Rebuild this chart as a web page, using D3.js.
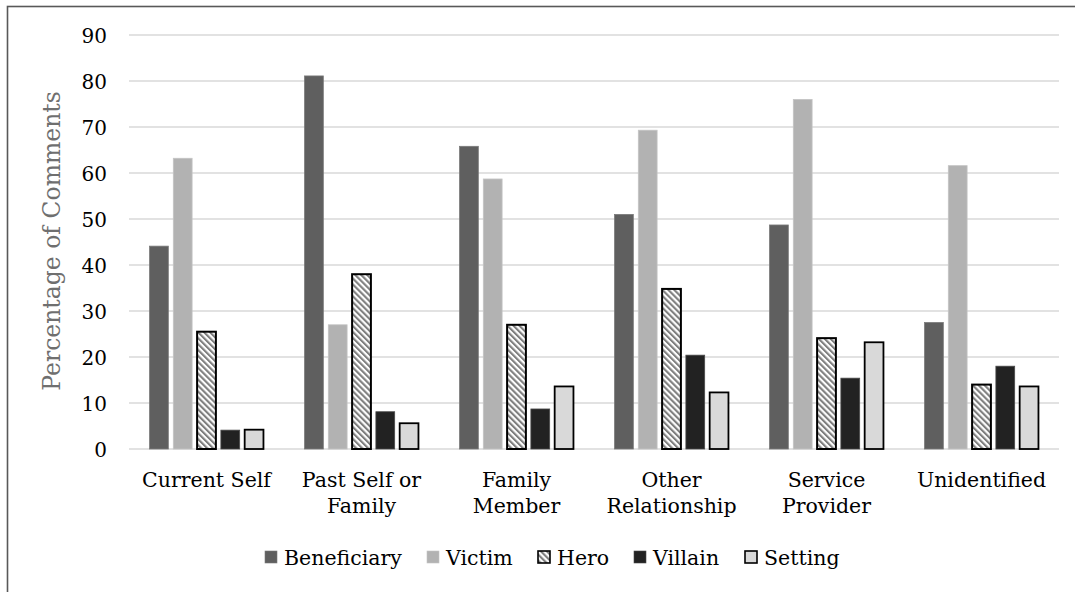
<!DOCTYPE html>
<html>
<head>
<meta charset="utf-8">
<script src="https://cdn.jsdelivr.net/npm/d3@7"></script>
<style>
  html, body { margin: 0; padding: 0; background: #fff; }
  svg { display: block; }
  text { font-family: "DejaVu Serif", "Liberation Serif", serif; }
</style>
</head>
<body>
<svg id="chart" width="1075" height="592"></svg>
<script>
// Character roles found in comments, by who the comment is about
const categories = [
  ["Current Self"],
  ["Past Self or", "Family"],
  ["Family", "Member"],
  ["Other", "Relationship"],
  ["Service", "Provider"],
  ["Unidentified"]
];
const seriesNames = ["Beneficiary", "Victim", "Hero", "Villain", "Setting"];

const beneficiary = [44.1, 81.1, 65.8, 51.0, 48.7, 27.5];
const victim      = [63.2, 27.0, 58.7, 69.3, 76.0, 61.6];
const hero        = [25.5, 38.0, 27.0, 34.8, 24.1, 14.0];
const villain     = [4.1, 8.1, 8.7, 20.4, 15.4, 18.0];
const setting     = [4.2, 5.6, 13.6, 12.3, 23.2, 13.6];

const yTicks = [0, 10, 20, 30, 40, 50, 60, 70, 80, 90];

const seriesValues = [beneficiary, victim, hero, villain, setting];

const svg = d3.select("#chart");
const margin = { left: 129, right: 1075 - 1059, top: 35, bottom: 592 - 449 };
const W = 1075, H = 592;

// outer frame (only top and left edges fall inside the canvas)
svg.append("rect")
  .attr("x", 7.5).attr("y", 6.5)
  .attr("width", W + 20).attr("height", H + 20)
  .attr("fill", "none").attr("stroke", "#595959").attr("stroke-width", 1.6);

// hatch pattern for the Hero series
const defs = svg.append("defs");
const pat = defs.append("pattern")
  .attr("id", "hatch")
  .attr("patternUnits", "userSpaceOnUse")
  .attr("width", 4.2).attr("height", 4.2)
  .attr("patternTransform", "rotate(-45)");
pat.append("rect").attr("width", 4.2).attr("height", 4.2).attr("fill", "#ffffff");
pat.append("rect").attr("width", 2.1).attr("height", 4.2).attr("fill", "#7f7f7f");

const styles = [
  { fill: "#5f5f5f", stroke: "#7a7a7a", sw: 0.8 },
  { fill: "#b2b2b2", stroke: "#c4c4c4", sw: 0.8 },
  { fill: "url(#hatch)", stroke: "#000000", sw: 2 },
  { fill: "#222222", stroke: "#4a4a4a", sw: 0.8 },
  { fill: "#d9d9d9", stroke: "#000000", sw: 1.8 }
];

const x0 = d3.scaleBand()
  .domain(d3.range(categories.length))
  .range([margin.left, W - margin.right])
  .paddingInner(0.265)
  .paddingOuter(0.1325);

const x1 = d3.scaleBand()
  .domain(d3.range(seriesNames.length))
  .range([0, x0.bandwidth()])
  .paddingInner(0.21);

const y = d3.scaleLinear()
  .domain([0, 90])
  .range([H - margin.bottom, margin.top]);

// gridlines
svg.append("g")
  .selectAll("line")
  .data(yTicks)
  .join("line")
  .attr("x1", margin.left).attr("x2", W - margin.right)
  .attr("y1", d => y(d)).attr("y2", d => y(d))
  .attr("stroke", "#d9d9d9").attr("stroke-width", 1.5);

// y axis labels
const yAxis = d3.axisLeft(y).tickValues(yTicks).tickSize(0).tickPadding(0).tickFormat(d3.format("d"));
const gy = svg.append("g")
  .attr("transform", `translate(${107},0)`)
  .call(yAxis);
gy.select(".domain").remove();
gy.selectAll("text")
  .attr("font-family", "DejaVu Serif")
  .attr("font-size", 20)
  .attr("fill", "#000")
  .attr("dy", "0.38em");

// y axis title
svg.append("text")
  .attr("transform", `translate(60,${241}) rotate(-90)`)
  .attr("text-anchor", "middle")
  .attr("font-size", 23.5)
  .attr("fill", "#6f6f6f")
  .text("Percentage of Comments");

// bars
const groups = svg.append("g")
  .selectAll("g")
  .data(categories.map((c, i) => i))
  .join("g")
  .attr("transform", i => `translate(${x0(i)},0)`);

groups.selectAll("rect")
  .data(i => seriesValues.map((vals, s) => ({ s, v: vals[i] })))
  .join("rect")
  .attr("x", d => x1(d.s))
  .attr("width", x1.bandwidth())
  .attr("y", d => y(d.v))
  .attr("height", d => y(0) - y(d.v))
  .attr("fill", d => styles[d.s].fill)
  .attr("stroke", d => styles[d.s].stroke)
  .attr("stroke-width", d => styles[d.s].sw);

// category labels
const catG = svg.append("g");
categories.forEach((lines, i) => {
  const t = catG.append("text")
    .attr("x", x0(i) + x0.bandwidth() / 2)
    .attr("y", 487)
    .attr("text-anchor", "middle")
    .attr("font-size", 20.5)
    .attr("fill", "#000");
  lines.forEach((ln, k) => {
    t.append("tspan")
      .attr("x", x0(i) + x0.bandwidth() / 2)
      .attr("dy", k === 0 ? 0 : 26)
      .text(ln);
  });
});

// legend
const legendX = [265, 427, 538, 634, 745];
const lg = svg.append("g");
seriesNames.forEach((name, s) => {
  const gx = legendX[s];
  lg.append("rect")
    .attr("x", gx).attr("y", 551)
    .attr("width", 12).attr("height", 12)
    .attr("fill", styles[s].fill)
    .attr("stroke", styles[s].stroke)
    .attr("stroke-width", s === 2 || s === 4 ? 1.6 : 0.6);
  lg.append("text")
    .attr("x", gx + 19).attr("y", 565)
    .attr("font-size", 20.5)
    .attr("fill", "#000")
    .text(name);
});
</script>
</body>
</html>
